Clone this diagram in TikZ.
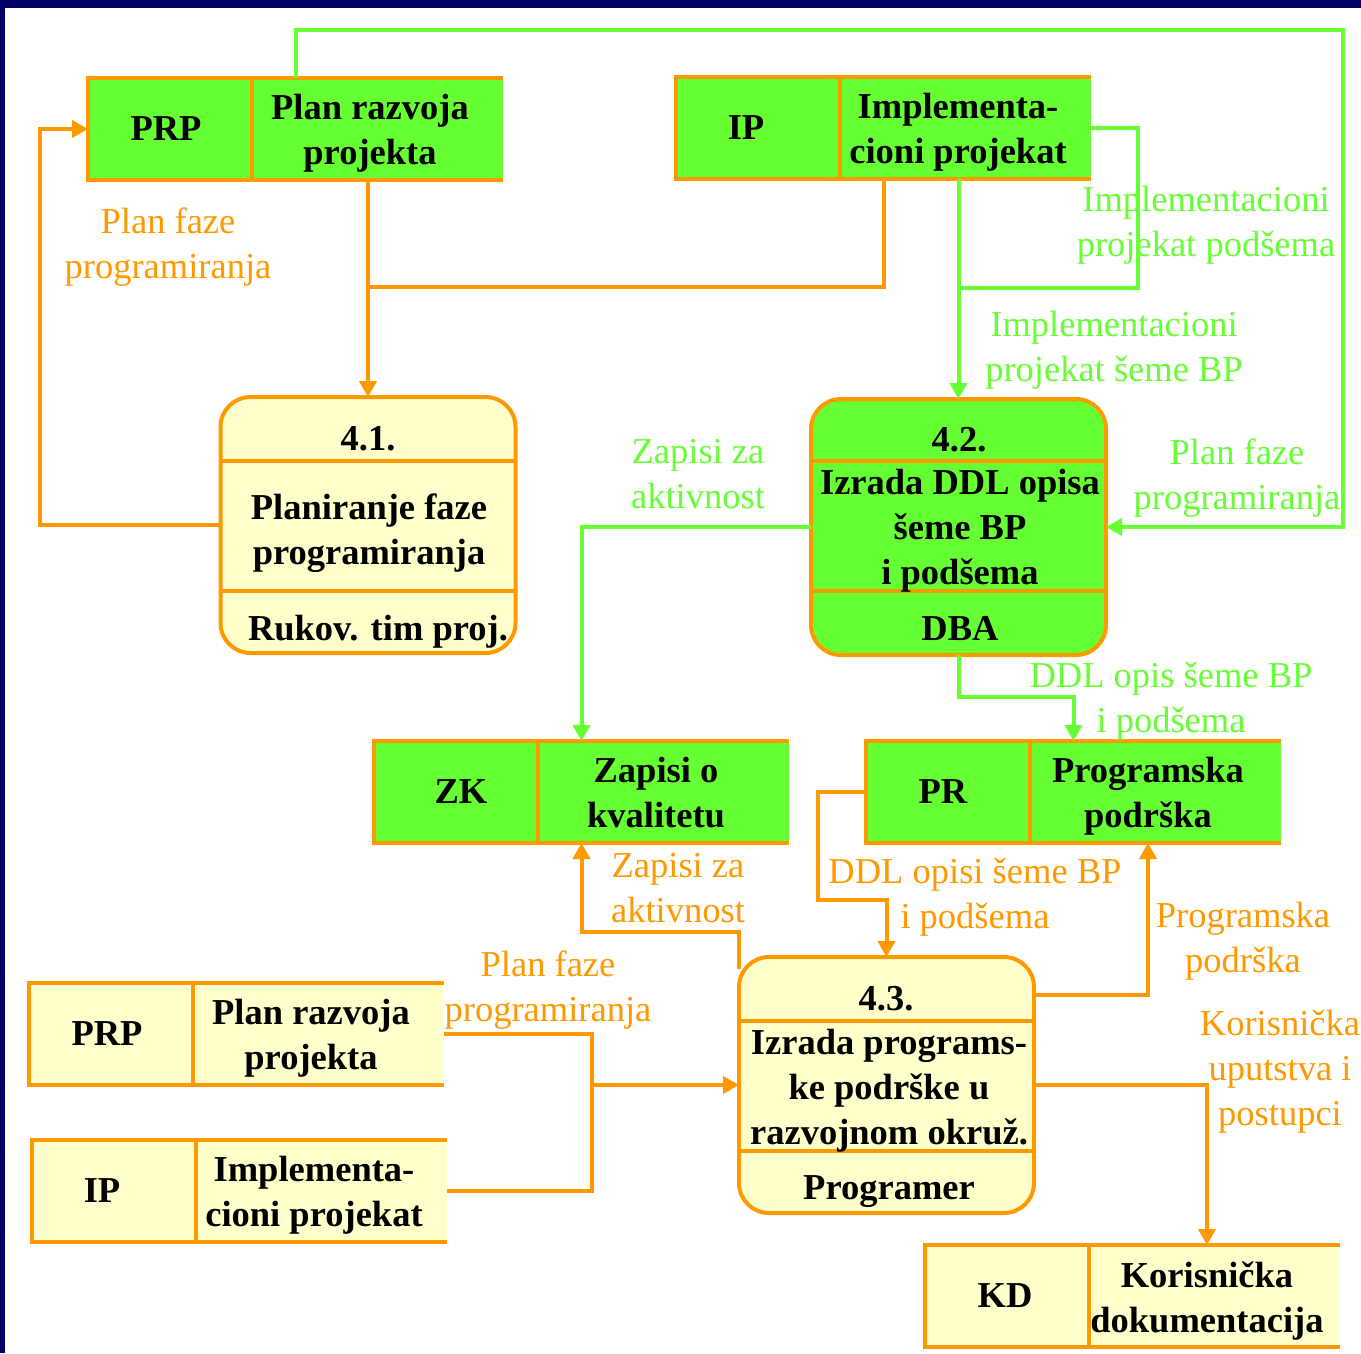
\documentclass[tikz,border=0pt]{standalone}
\usepackage{fontspec}
\setmainfont{Liberation Serif}
\usetikzlibrary{arrows.meta,calc}
\definecolor{dfdgreen}{HTML}{66FF33}
\definecolor{dfdorange}{HTML}{FF9900}
\definecolor{dfdyellow}{HTML}{FFFFCC}
\definecolor{dfdnavy}{HTML}{000066}
\tikzset{
  bigtxt/.style={font=\fontsize{36.5}{45}\selectfont\bfseries, align=center, inner sep=0pt,
    execute at begin node=\strut, execute at end node=\strut},
  lbltxt/.style={font=\fontsize{36.5}{45}\selectfont, align=center, inner sep=0pt,
    execute at begin node=\strut, execute at end node=\strut},
  olbl/.style={lbltxt, text=dfdorange},
  glbl/.style={lbltxt, text=dfdgreen},
  storenode/.style={minimum width=415pt, minimum height=102pt, inner sep=0pt, outer sep=0pt, draw=none},
  storeline/.style={draw=dfdorange, line width=4pt, line join=miter},
  procbox/.style={draw=dfdorange, line width=4pt, rounded corners=30pt, minimum width=295pt,
    minimum height=256pt, inner sep=0pt, outer sep=0pt},
  oline/.style={draw=dfdorange, line width=4pt},
  oarrow/.style={oline, -{Triangle[length=16pt,width=17pt]}},
  gline/.style={draw=dfdgreen, line width=4pt},
  garrow/.style={gline, -{Triangle[length=16pt,width=17pt]}},
}
% #1 name, #2 left x, #3 top y, #4 fill, #5 key, #6 title, #7 key x offset
\newcommand\dfdstore[7]{%
  \node[storenode, fill=#4] (#1A) at (#2+207.5,#3+51) {};
  \draw[storeline] (#1A.north east) -- (#1A.north west) -- (#1A.south west) -- (#1A.south east);
  \draw[storeline] (#2+164,#3) -- (#2+164,#3+102);
  \node[bigtxt] (#1K) at (#2+#7,#3+53.5) {#5};
  \node[bigtxt] (#1N) at (#2+282,#3+58.5) {#6};
}
\begin{document}
\begin{tikzpicture}[x=1pt,y=-1pt]
\useasboundingbox (0,0) rectangle (1361,1353);
\fill[white] (0,0) rectangle (1361,1353);
\fill[dfdnavy] (0,0) rectangle (1361,8);
\fill[dfdnavy] (0,0) rectangle (5,1353);

% data stores
\dfdstore{prp}{88}{78}{dfdgreen}{PRP}{Plan razvoja\\projekta}{78}
\dfdstore{ip}{676}{77}{dfdgreen}{IP}{Implementa-\\cioni projekat}{70}
\dfdstore{zk}{374}{741}{dfdgreen}{ZK}{Zapisi o\\kvalitetu}{87}
\dfdstore{pr}{866}{741}{dfdgreen}{PR}{Programska\\podrška}{77}
\dfdstore{prpb}{29}{983}{dfdyellow}{PRP}{Plan razvoja\\projekta}{78}
\dfdstore{ipb}{32}{1140}{dfdyellow}{IP}{Implementa-\\cioni projekat}{70}
\dfdstore{kd}{925}{1245}{dfdyellow}{KD}{Korisnička\\dokumentacija}{80}

% processes
\node[procbox, fill=dfdyellow] (p41) at (368,525) {};
\draw[storeline] (p41.west |- 0,461) -- (p41.east |- 0,461);
\draw[storeline] (p41.west |- 0,591) -- (p41.east |- 0,591);
\node[procbox, fill=dfdgreen] (p42) at (958.5,527) {};
\draw[storeline] (p42.west |- 0,461) -- (p42.east |- 0,461);
\draw[storeline] (p42.west |- 0,591) -- (p42.east |- 0,591);
\node[procbox, fill=dfdyellow] (p43) at (886.5,1085) {};
\draw[storeline] (p43.west |- 0,1021) -- (p43.east |- 0,1021);
\draw[storeline] (p43.west |- 0,1151) -- (p43.east |- 0,1151);

\node[bigtxt] (t41a) at (368,441) {4.1.};
\node[bigtxt] (t41b) at (369,536) {Planiranje faze\\programiranja};
\node[bigtxt] (t41c) at (378,631) {Rukov. tim proj.};
\node[bigtxt] (t42a) at (959,442) {4.2.};
\node[bigtxt] (t42b) at (960,534) {Izrada DDL opisa\\šeme BP\\i podšema};
\node[bigtxt] (t42c) at (960,631) {DBA};
\node[bigtxt] (t43a) at (886,1001) {4.3.};
\node[bigtxt] (t43b) at (889,1094) {Izrada programs-\\ke podrške u\\razvojnom okruž.};
\node[bigtxt] (t43c) at (889,1190) {Programer};

% orange connectors
\coordinate (j1) at (370,287);
\draw[oline] (ipA.south) |- (j1);
\draw[oarrow] (prpA.south -| p41.north) -- (p41.north);
\coordinate (c2) at (40,0);
\draw[oarrow] (p41.west) -- (p41.west -| c2) |- (prpA.west);
\coordinate (r3) at (0,932);
\draw[oarrow] ([yshift=-12pt]p43.north west) -- (p43.north west |- r3) -| (zkA.south);
\coordinate (r4) at (818,900);
\draw[oarrow] (prA.west) -| (r4) -| (p43.north);
\coordinate (r5) at (0,995);
\draw[oarrow] (p43.east |- r5) -| (prN |- prA.south);
\draw[oarrow] (p43.east) -| (kdN |- kdA.north);
\coordinate (r7) at (592,1100);
\draw[oline] (prpbA.east) -| (r7) |- (ipbA.east);
\draw[oarrow] (p43.west -| r7) -- (p43.west);

% green connectors
\coordinate (r8) at (1343,30);
\draw[garrow] (prpA.north) |- (r8) |- (p42.east);
\coordinate (r9) at (1138,288);
\draw[gline] (ipA.east) -| (r9) -- (r9 -| p42.north);
\draw[garrow] (p42.north |- ipA.south) -- (p42.north);
\draw[garrow] (p42.west) -| (zkA.north);
\coordinate (r11) at (0,697);
\draw[garrow] (p42.south) -- (p42.south |- r11) -| (prA.north);

% flow labels
\node[olbl] (l1) at (168,250) {Plan faze\\programiranja};
\node[glbl] (l2) at (1206,228) {Implementacioni\\projekat podšema};
\node[glbl] (l3) at (1114,353) {Implementacioni\\projekat šeme BP};
\node[glbl] (l4) at (698,481) {Zapisi za\\aktivnost};
\node[glbl] (l5) at (1237,481) {Plan faze\\programiranja};
\node[glbl] (l6) at (1171,704) {DDL opis šeme BP\\i podšema};
\node[olbl] (l7) at (678,895) {Zapisi za\\aktivnost};
\node[olbl] (l8) at (975,900) {DDL opisi šeme BP\\i podšema};
\node[olbl] (l9) at (1243,944) {Programska\\podrška};
\node[olbl] (l10) at (548,993) {Plan faze\\programiranja};
\node[olbl] (l11) at (1280,1075) {Korisnička\\uputstva i\\postupci};
\end{tikzpicture}
\end{document}
